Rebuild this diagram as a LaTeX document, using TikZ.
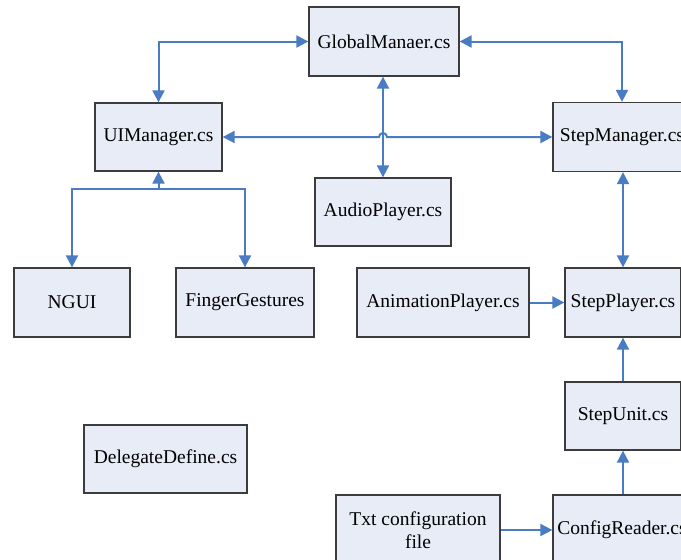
\documentclass[tikz,border=0pt]{standalone}
\usepackage{fontspec}
\setmainfont{Liberation Serif}
\usetikzlibrary{arrows.meta,calc}
\definecolor{lineblue}{HTML}{4A7CC4}
\definecolor{boxfill}{HTML}{E7ECF7}
\definecolor{boxdraw}{HTML}{3C3C3C}
\tikzset{
  box/.style={draw=boxdraw, line width=1.3pt, fill=boxfill, rectangle, inner sep=0pt,
    font=\fontsize{19.5}{23}\selectfont, align=center},
  conn/.style={draw=lineblue, line width=2pt},
  tip/.tip={Triangle[width=12pt,length=12pt]},
}
\begin{document}
\begin{tikzpicture}[x=1pt,y=-1pt]
\useasboundingbox (0,0) rectangle (681,560);
\clip (0,0) rectangle (681,560);
\fill[white] (0,0) rectangle (681,560);
\node[box, minimum width=150pt, minimum height=69pt] (G) at (384,41.5) {GlobalManaer.cs};
\node[box, minimum width=127pt, minimum height=68pt] (UI) at (158.5,137) {UIManager.cs};
\node[box, minimum width=138pt, minimum height=69pt] (SM) at (622,137) {StepManager.cs};
\node[box, minimum width=136pt, minimum height=68pt] (AU) at (383,212) {AudioPlayer.cs};
\node[box, minimum width=116pt, minimum height=69pt] (NG) at (72,302.5) {NGUI};
\node[box, minimum width=138pt, minimum height=69pt] (FG) at (245,302.5) {FingerGestures};
\node[box, minimum width=172pt, minimum height=69pt] (AN) at (443,302.5) {AnimationPlayer.cs};
\node[box, minimum width=116pt, minimum height=69pt] (SP) at (623,302.5) {StepPlayer.cs};
\node[box, minimum width=116pt, minimum height=68pt] (SU) at (623,416) {StepUnit.cs};
\node[box, minimum width=163pt, minimum height=68pt] (DD) at (165.5,459) {DelegateDefine.cs};
\node[box, minimum width=164pt, minimum height=70pt] (TX) at (418,530) {Txt configuration\\file};
\node[box, minimum width=138pt, minimum height=70pt] (CR) at (622,530) {ConfigReader.cs};
% connectors
\draw[conn, {tip}-{tip}] (G.west) -| (UI.north);
\draw[conn, {tip}-{tip}] (G.east) -| (SM.north);
\draw[conn, {tip}-{tip}] (AU.north |- G.south) -- (AU.north);
\coordinate (hop) at (AU.north |- UI.east);
\draw[conn, {tip}-{tip}] (UI.east) -- ($(hop)+(-4,0)$) arc[start angle=180, end angle=0, radius=4pt] -- (SM.west);
\coordinate (j) at ($(UI.south)+(0,17)$);
\draw[conn, -{tip}] (j) -- (UI.south);
\draw[conn, {tip}-{tip}] (NG.north) |- (j) -| (FG.north);
\draw[conn, {tip}-{tip}] (SP.north |- SM.south) -- (SP.north);
\draw[conn, -{tip}] (AN.east) -- (SP.west);
\draw[conn, -{tip}] (SU.north) -- (SP.south);
\draw[conn, -{tip}] (SU.south |- CR.north) -- (SU.south);
\draw[conn, -{tip}] (TX.east) -- (CR.west);
\end{tikzpicture}
\end{document}
